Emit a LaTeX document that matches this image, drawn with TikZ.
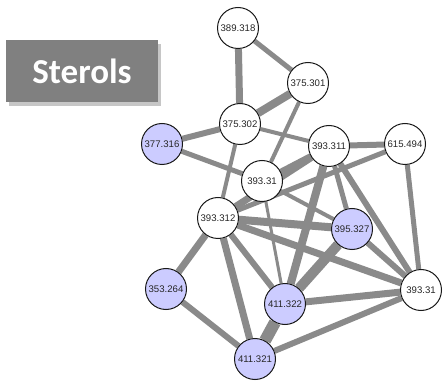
\documentclass[tikz,border=0pt]{standalone}
\usepackage{fontspec}
\setmainfont{Liberation Sans}
\newfontfamily\titlefont{Carlito}
\usetikzlibrary{backgrounds, shadows}
\definecolor{cEdge}{RGB}{138,138,138}
\definecolor{cLav}{RGB}{204,204,255}
\definecolor{cBox}{RGB}{128,128,128}

\begin{document}
\begin{tikzpicture}[x=1pt, y=-1pt,
    met/.style={circle, draw=black!90, line width=1pt, fill=white, minimum size=41pt, inner sep=0pt,
        font=\fontsize{9.6}{10}\selectfont, text=black!85},
    hit/.style={met, fill=cLav},
    edge/.style={draw=cEdge}]

    \useasboundingbox (0,0) rectangle (444,387);

    % --- Title box ---
    \node[fill=cBox, minimum width=152pt, minimum height=62pt, inner sep=0pt,
        drop shadow={shadow xshift=3pt, shadow yshift=-4pt, opacity=0.45},
        text=white, font=\titlefont\bfseries\fontsize{35}{40}\selectfont] (title) at (82,71) {Sterols};

    % --- Metabolites ---
    \node[met] (n389) at (238,28) {389.318};
    \node[met] (n375a) at (308,83) {375.301};
    \node[met] (n375b) at (240,124) {375.302};
    \node[hit] (n377) at (162,144) {377.316};
    \node[met] (n393c) at (329,146) {393.311};
    \node[met] (n615) at (405,144) {615.494};
    \node[met] (n393a) at (262,181) {393.31};
    \node[met] (n393d) at (218,218) {393.312};
    \node[hit] (n395) at (352,229) {395.327};
    \node[hit] (n353) at (166,289) {353.264};
    \node[hit] (n411b) at (285,304) {411.322};
    \node[met] (n393b) at (421,290) {393.31};
    \node[hit] (n411a) at (255,359) {411.321};

    % --- Correlations (width = strength) ---
    \begin{scope}[on background layer]
    \foreach \a/\b/\w in {
        n389/n375b/7, n389/n375a/5, n375a/n375b/8, n375a/n393a/4,
        n375b/n377/6, n375b/n393c/4, n375b/n393d/4, n377/n393a/5,
        n393c/n615/6, n393c/n393a/5, n393c/n393d/7, n393c/n411b/8,
        n393c/n395/5, n393c/n393b/6, n615/n393d/5, n615/n393b/5,
        n393a/n395/4, n393a/n411b/3,
        n393d/n395/8, n393d/n393b/7, n393d/n411b/6, n393d/n411a/7, n393d/n353/7,
        n395/n393b/6, n395/n411b/10, n411b/n393b/7, n411b/n411a/12,
        n411a/n393b/6, n411a/n353/6}
        \draw[edge, line width=\w pt] (\a) -- (\b);
    \end{scope}

\end{tikzpicture}
\end{document}
